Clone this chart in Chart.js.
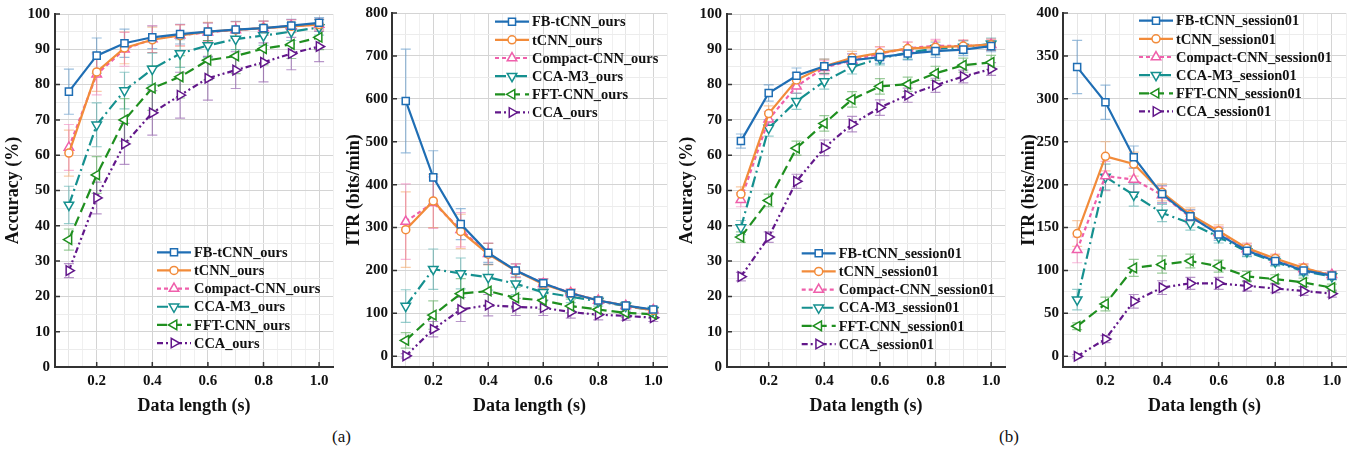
<!DOCTYPE html>
<html>
<head>
<meta charset="utf-8">
<script src="https://cdn.jsdelivr.net/npm/chart.js@4.4.1/dist/chart.umd.min.js"></script>
<style>
  body { margin: 0; background: #fff; width: 1364px; height: 456px; position: relative; overflow: hidden; }
  .panel { position: absolute; top: 0; height: 420px; }
  .cap { position: absolute; top: 427px; font: 17px "Liberation Serif", serif; color: #111; }
</style>
</head>
<body>
<div class="panel" style="left:0;width:340px"><canvas id="accOurs"></canvas></div>
<div class="panel" style="left:340px;width:334px"><canvas id="itrOurs"></canvas></div>
<div class="panel" style="left:674px;width:338px"><canvas id="accSess"></canvas></div>
<div class="panel" style="left:1012px;width:352px"><canvas id="itrSess"></canvas></div>
<div class="cap" style="left:332px">(a)</div>
<div class="cap" style="left:999px">(b)</div>

<script>
// data length (s)
const dataLength = [0.1, 0.2, 0.3, 0.4, 0.5, 0.6, 0.7, 0.8, 0.9, 1.0];

// tick labels
const xTicks = [0.2, 0.4, 0.6, 0.8, 1.0];
const accTicks = [0, 10, 20, 30, 40, 50, 60, 70, 80, 90, 100];
const itrOursTicks = [0, 100, 200, 300, 400, 500, 600, 700, 800];
const itrSessTicks = [0, 50, 100, 150, 200, 250, 300, 350, 400];

const methodNames = ['FB-tCNN', 'tCNN', 'Compact-CNN', 'CCA-M3', 'FFT-CNN', 'CCA'];

// (a) accuracy, ours
const accOursFB      = [78.0, 88.2, 91.7, 93.4, 94.3, 95.0, 95.6, 96.0, 96.7, 97.5];
const accOursTCNN    = [60.6, 83.6, 90.4, 92.7, 93.9, 95.0, 95.5, 96.0, 96.5, 97.0];
const accOursCompact = [62.2, 82.9, 90.0, 92.9, 94.0, 94.8, 95.5, 96.0, 96.6, 97.0];
const accOursM3      = [45.9, 68.6, 78.3, 84.4, 88.8, 91.1, 92.9, 93.9, 95.0, 96.2];
const accOursFFT     = [36.1, 54.4, 70.0, 79.0, 82.2, 86.9, 88.1, 90.2, 91.4, 93.4];
const accOursCCA     = [27.3, 47.9, 63.2, 72.0, 77.0, 81.8, 84.1, 86.3, 88.8, 90.8];
const accOursFBErr      = [6.4, 5.0, 4.0, 3.2, 2.8, 2.5, 2.3, 2.0, 1.8, 1.5];
const accOursTCNNErr    = [6.5, 5.5, 4.5, 3.6, 3.0, 2.6, 2.3, 2.0, 1.8, 1.5];
const accOursCompactErr = [6.5, 5.8, 4.8, 3.8, 3.0, 2.6, 2.3, 2.0, 1.8, 1.5];
const accOursM3Err      = [5.3, 6.2, 5.2, 4.5, 3.9, 3.4, 3.0, 2.8, 2.5, 2.2];
const accOursFFTErr     = [3.0, 5.2, 6.0, 6.3, 6.0, 5.6, 5.0, 4.6, 4.0, 3.5];
const accOursCCAErr     = [2.0, 4.5, 5.8, 6.3, 6.5, 6.2, 5.2, 5.5, 4.6, 4.3];

// (a) ITR, ours
const itrOursFB      = [595, 417, 308, 241, 200, 170, 147, 130, 118, 109];
const itrOursTCNN    = [295, 362, 291, 238, 199, 168, 147, 130, 118, 107];
const itrOursCompact = [314, 358, 295, 239, 200, 169, 148, 130, 118, 108];
const itrOursM3      = [117, 203, 193, 184, 169, 149, 139, 128, 117, 107];
const itrOursFFT     = [37, 96, 146, 152, 136, 130, 117, 109, 101, 98];
const itrOursCCA     = [1, 63, 109, 119, 115, 113, 103, 97, 94, 90];
const itrOursFBErr      = [121, 62, 36, 22, 15, 11, 9, 7, 6, 5];
const itrOursTCNNErr    = [88, 62, 40, 25, 16, 12, 9, 7, 6, 5];
const itrOursCompactErr = [88, 60, 40, 25, 16, 12, 9, 7, 6, 5];
const itrOursM3Err      = [38, 47, 36, 30, 25, 18, 14, 11, 9, 7];
const itrOursFFTErr     = [18, 33, 35, 33, 25, 20, 16, 13, 11, 9];
const itrOursCCAErr     = [5, 18, 28, 25, 20, 18, 14, 12, 10, 9];

// (b) accuracy, session01
const accSessFB      = [64.0, 77.6, 82.5, 85.2, 86.9, 87.8, 88.8, 89.5, 89.9, 90.9];
const accSessTCNN    = [49.0, 71.8, 81.3, 85.2, 87.6, 89.0, 90.2, 90.6, 90.9, 91.3];
const accSessCompact = [47.4, 70.2, 79.5, 84.8, 86.9, 88.8, 90.3, 91.0, 90.9, 91.3];
const accSessM3      = [39.5, 67.7, 75.3, 80.9, 85.0, 87.4, 89.0, 90.2, 90.6, 91.5];
const accSessFFT     = [36.8, 47.2, 62.0, 69.0, 75.8, 79.5, 80.1, 83.2, 85.5, 86.3];
const accSessCCA     = [25.6, 36.8, 52.6, 62.1, 68.8, 73.5, 77.0, 79.8, 82.3, 84.4];
const accSessFBErr      = [2.0, 2.3, 2.2, 2.0, 1.8, 1.8, 1.8, 1.8, 1.7, 1.6];
const accSessTCNNErr    = [2.0, 2.2, 2.0, 2.0, 1.8, 1.8, 1.8, 1.8, 1.7, 1.6];
const accSessCompactErr = [2.0, 2.2, 2.0, 2.0, 1.8, 1.8, 1.8, 1.8, 1.7, 1.6];
const accSessM3Err      = [2.0, 2.3, 2.3, 2.2, 2.0, 1.8, 1.8, 1.8, 1.8, 1.7];
const accSessFFTErr     = [1.5, 1.8, 2.0, 2.2, 2.2, 2.2, 2.0, 2.0, 2.0, 2.0];
const accSessCCAErr     = [1.2, 1.5, 2.0, 2.2, 2.2, 2.2, 2.0, 2.0, 1.8, 1.8];

// (b) ITR, session01
const itrSessFB      = [337, 296, 232, 189, 163, 142, 123, 111, 100, 94];
const itrSessTCNN    = [143, 233, 224, 191, 165, 146, 126, 114, 103, 94];
const itrSessCompact = [124, 210, 206, 188, 162, 144, 125, 113, 102, 95];
const itrSessM3      = [66, 209, 188, 167, 155, 139, 122, 110, 99, 93];
const itrSessFFT     = [35, 61, 103, 107, 111, 105, 93, 90, 86, 80];
const itrSessCCA     = [0, 20, 64, 80, 85, 85, 82, 79, 76, 73];
const itrSessFBErr      = [31, 20, 13, 10, 8, 7, 6, 5, 5, 4];
const itrSessTCNNErr    = [15, 17, 14, 10, 8, 7, 6, 5, 5, 4];
const itrSessCompactErr = [15, 17, 14, 10, 8, 7, 6, 5, 5, 4];
const itrSessM3Err      = [12, 15, 13, 10, 8, 7, 6, 5, 5, 4];
const itrSessFFTErr     = [4, 8, 10, 10, 8, 7, 6, 5, 5, 4];
const itrSessCCAErr     = [2, 4, 8, 8, 7, 7, 6, 5, 5, 4];

// look of each method
const styles = [
  { color: '#1f6eb4', err: 'rgba(31,110,180,0.45)',  dash: [],                 point: 'rect',     rot: 0,   r: 5 },
  { color: '#f28b3a', err: 'rgba(242,139,58,0.45)',  dash: [],                 point: 'circle',   rot: 0,   r: 4 },
  { color: '#ef5fab', err: 'rgba(239,95,171,0.45)',  dash: [4, 3],             point: 'triangle', rot: 0,   r: 5.5 },
  { color: '#15908f', err: 'rgba(21,144,143,0.45)',  dash: [11, 4, 2, 4],      point: 'triangle', rot: 180, r: 5.5 },
  { color: '#1f8f1f', err: 'rgba(31,143,31,0.45)',   dash: [10, 5],            point: 'triangle', rot: 270, r: 5.5 },
  { color: '#62178a', err: 'rgba(98,23,138,0.45)',   dash: [6, 3, 2, 3, 2, 3], point: 'triangle', rot: 90,  r: 5.5 }
];

const SERIF = '"Liberation Serif", "Times New Roman", serif';

const errorBars = {
  id: 'errorBars',
  beforeDatasetsDraw(chart) {
    const { ctx, scales: { x, y } } = chart;
    chart.data.datasets.forEach((ds, i) => {
      if (!ds.errors) return;
      ctx.save();
      ctx.strokeStyle = ds.errorColor;
      ctx.lineWidth = 1.2;
      ds.data.forEach((p, j) => {
        const px = x.getPixelForValue(p.x);
        const top = y.getPixelForValue(p.y + ds.errors[j]);
        const bot = y.getPixelForValue(p.y - ds.errors[j]);
        ctx.beginPath();
        ctx.moveTo(px, top); ctx.lineTo(px, bot);
        ctx.moveTo(px - 5, top); ctx.lineTo(px + 5, top);
        ctx.moveTo(px - 5, bot); ctx.lineTo(px + 5, bot);
        ctx.stroke();
      });
      ctx.restore();
    });
  },
  afterDraw(chart) {
    // short inward tick marks on the two axes
    const { ctx, scales: { x, y }, chartArea } = chart;
    ctx.save();
    ctx.strokeStyle = '#333';
    ctx.lineWidth = 1.5;
    ctx.beginPath();
    chart.options.plugins.inLegend.xMajor.forEach(v => {
      const px = x.getPixelForValue(v);
      ctx.moveTo(px, chartArea.bottom); ctx.lineTo(px, chartArea.bottom - 5);
    });
    chart.options.plugins.inLegend.yMajor.forEach(v => {
      const py = y.getPixelForValue(v);
      ctx.moveTo(chartArea.left, py); ctx.lineTo(chartArea.left + 5, py);
    });
    ctx.stroke();
    ctx.restore();
  }
};

const inLegend = {
  id: 'inLegend',
  afterDatasetsDraw(chart, args, opts) {
    const ctx = chart.ctx;
    chart.data.datasets.forEach((ds, i) => {
      const st = styles[i];
      const y = opts.top + i * opts.rowH;
      ctx.save();
      ctx.strokeStyle = st.color;
      ctx.lineWidth = 2.2;
      ctx.setLineDash(st.dash);
      ctx.beginPath();
      ctx.moveTo(opts.left, y);
      ctx.lineTo(opts.left + 34, y);
      ctx.stroke();
      ctx.setLineDash([]);
      ctx.fillStyle = '#fff';
      ctx.lineWidth = 1.5;
      Chart.helpers.drawPoint(ctx, { pointStyle: st.point, rotation: st.rot, radius: st.r, borderWidth: 1.5 }, opts.left + 17, y);
      ctx.fillStyle = '#111';
      ctx.font = 'bold 14.4px ' + SERIF;
      ctx.textBaseline = 'middle';
      ctx.fillText(ds.label, opts.left + 37, y + 1);
      ctx.restore();
    });
  }
};

function steps(from, to, step) {
  const out = [];
  for (let v = from; v <= to + 1e-9; v += step) out.push(Math.round(v * 1000) / 1000);
  return out;
}
const isIn = (arr, v) => arr.some(a => Math.abs(a - v) < 1e-6);

function makeChart(id, opt) {
  const datasets = opt.series.map((vals, i) => ({
    label: methodNames[i] + opt.suffix,
    data: dataLength.map((x, j) => ({ x: x, y: vals[j] })),
    errors: opt.errors[i],
    errorColor: styles[i].err,
    borderColor: styles[i].color,
    backgroundColor: '#fff',
    borderWidth: 2.2,
    borderDash: styles[i].dash,
    pointStyle: styles[i].point,
    pointRotation: styles[i].rot,
    pointRadius: styles[i].r,
    pointBorderWidth: 1.5,
    pointBackgroundColor: '#fff',
    tension: 0
  }));
  const xMinor = steps(0.05, 1.05, 0.05);
  const yMinor = steps(opt.yTicks[0], opt.yTicks[opt.yTicks.length - 1], (opt.yTicks[1] - opt.yTicks[0]) / 2);
  return new Chart(document.getElementById(id), {
    type: 'line',
    data: { datasets },
    plugins: [errorBars, inLegend],
    options: {
      responsive: true,
      maintainAspectRatio: false,
      animation: false,
      events: [],
      layout: { padding: { left: 0, right: opt.padRight, top: 8, bottom: 0 } },
      plugins: {
        legend: { display: false },
        tooltip: { enabled: false },
        inLegend: { left: opt.legend[0], top: opt.legend[1], rowH: 18.15, xMajor: xTicks, yMajor: opt.yTicks }
      },
      scales: {
        x: {
          type: 'linear',
          min: 0.05, max: 1.05,
          afterBuildTicks: s => { s.ticks = xMinor.map(v => ({ value: v })); },
          afterFit: s => { s.height = 53; },
          ticks: {
            autoSkip: false, maxRotation: 0, padding: 5, color: '#111',
            font: { family: SERIF, size: 15, weight: 'bold' },
            callback: v => isIn(xTicks, v) ? Number(v).toFixed(1) : ''
          },
          grid: {
            drawTicks: false,
            color: c => isIn(xTicks, c.tick.value) ? '#d4d4d4' : (isIn(dataLength, c.tick.value) ? '#e6e6e6' : '#f0f0f0'),
            lineWidth: 1
          },
          border: { display: true, color: '#333', width: 2 },
          title: {
            display: true, text: 'Data length (s)', color: '#111',
            font: { family: SERIF, size: 18, weight: 'bold' },
            padding: { top: 0, bottom: 3 }
          }
        },
        y: {
          min: opt.yMin, max: opt.yTicks[opt.yTicks.length - 1],
          afterBuildTicks: s => { s.ticks = yMinor.map(v => ({ value: v })); },
          afterFit: s => { s.width = opt.axisW; },
          ticks: {
            autoSkip: false, padding: opt.tickPad, color: '#111',
            font: { family: SERIF, size: 15, weight: 'bold' },
            callback: v => isIn(opt.yTicks, v) ? String(v) : ''
          },
          grid: {
            drawTicks: false,
            color: c => isIn(opt.yTicks, c.tick.value) ? '#d4d4d4' : '#ececec',
            lineWidth: 1
          },
          border: { display: true, color: '#333', width: 2 },
          title: {
            display: true, text: opt.yTitle, color: '#111',
            font: { family: SERIF, size: 18, weight: 'bold' },
            padding: { top: opt.titlePad, bottom: 0 }
          }
        }
      }
    }
  });
}

makeChart('accOurs', {
  suffix: '_ours',
  series: [accOursFB, accOursTCNN, accOursCompact, accOursM3, accOursFFT, accOursCCA],
  errors: [accOursFBErr, accOursTCNNErr, accOursCompactErr, accOursM3Err, accOursFFTErr, accOursCCAErr],
  yTicks: accTicks, yMin: 0, yTitle: 'Accuracy (%)',
  axisW: 55, tickPad: 5, titlePad: 3, padRight: 2, legend: [157, 252.3]
});
makeChart('itrOurs', {
  suffix: '_ours',
  series: [itrOursFB, itrOursTCNN, itrOursCompact, itrOursM3, itrOursFFT, itrOursCCA],
  errors: [itrOursFBErr, itrOursTCNNErr, itrOursCompactErr, itrOursM3Err, itrOursFFTErr, itrOursCCAErr],
  yTicks: itrOursTicks, yMin: -25, yTitle: 'ITR (bits/min)',
  axisW: 52, tickPad: 4, titlePad: 4, padRight: 0, legend: [155, 21.7]
});
makeChart('accSess', {
  suffix: '_session01',
  series: [accSessFB, accSessTCNN, accSessCompact, accSessM3, accSessFFT, accSessCCA],
  errors: [accSessFBErr, accSessTCNNErr, accSessCompactErr, accSessM3Err, accSessFFTErr, accSessCCAErr],
  yTicks: accTicks, yMin: 0, yTitle: 'Accuracy (%)',
  axisW: 53, tickPad: 5, titlePad: 3, padRight: 2, legend: [127.7, 253.3]
});
makeChart('itrSess', {
  suffix: '_session01',
  series: [itrSessFB, itrSessTCNN, itrSessCompact, itrSessM3, itrSessFFT, itrSessCCA],
  errors: [itrSessFBErr, itrSessTCNNErr, itrSessCompactErr, itrSessM3Err, itrSessFFTErr, itrSessCCAErr],
  yTicks: itrSessTicks, yMin: -12.5, yTitle: 'ITR (bits/min)',
  axisW: 51, tickPad: 4, titlePad: 7, padRight: 18, legend: [127, 20.7]
});
</script>
</body>
</html>
